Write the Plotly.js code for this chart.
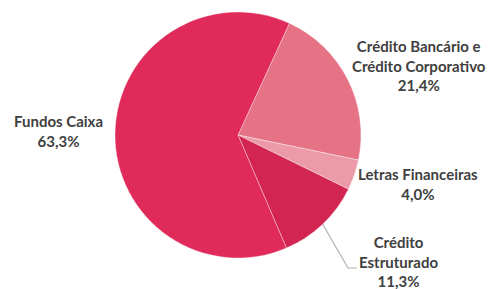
<!DOCTYPE html>
<html><head><meta charset="utf-8">
<script src="https://cdn.plot.ly/plotly-3.0.1.min.js"></script>
<style>html,body{margin:0;padding:0;background:#fff}#chart{width:490px;height:289px}</style>
</head><body><div id="chart"></div>
<script>
// Data
const categories = ["Crédito Bancário e Crédito Corporativo", "Letras Financeiras", "Crédito Estruturado", "Fundos Caixa"];
const labelText = ["Crédito Bancário e<br>Crédito Corporativo", "Letras Financeiras", "Crédito<br>Estruturado", "Fundos Caixa"];
const values = [21.4, 4.0, 11.3, 63.3];
const colors = ["#E57285", "#EC9AA7", "#D22552", "#E02A5A"];

const W = 490, H = 289;
const cx = 238, cy = 135, R = 123;
const rotation = 24.7;

const fmt = v => v.toFixed(1).replace('.', ',') + '%';

// label positions (pixels, centre of text block)
const labelPos = [
  {x: 419, y: 65},
  {x: 418, y: 184},
  {x: 398, y: 261},
  {x: 58, y: 131}
];

const annotations = categories.map((c, i) => ({
  xref: 'paper', yref: 'paper',
  x: labelPos[i].x / W, y: 1 - labelPos[i].y / H,
  xanchor: 'center', yanchor: 'middle',
  text: '<b>' + labelText[i] + '<br>' + fmt(values[i]) + '</b>',
  showarrow: false, align: 'center',
  font: {family: 'Lato, sans-serif', size: 15, color: '#404040'}
}));

// leader line for Crédito Estruturado: from slice edge at mid-angle
const total = values.reduce((a, b) => a + b, 0);
let cum = 0; const mids = [];
values.forEach(v => { mids.push(rotation + (cum + v / 2) / total * 360); cum += v; });
const a = mids[2] * Math.PI / 180;
const sx = cx + R * Math.sin(a), sy = cy - R * Math.cos(a);
const shapes = [{
  type: 'path', xref: 'paper', yref: 'paper',
  path: `M ${sx / W} ${1 - sy / H} L ${348 / W} ${1 - 268 / H} L ${357 / W} ${1 - 268 / H}`,
  line: {color: '#b0b0b0', width: 1.2}
}];

const trace = {
  type: 'pie', labels: categories, values: values, sort: false, direction: 'clockwise',
  rotation: rotation, textinfo: 'none', hoverinfo: 'none',
  marker: {colors: colors, line: {color: 'rgba(255,255,255,0.6)', width: 0.6}},
  domain: {x: [(cx - R) / W, (cx + R) / W], y: [1 - (cy + R) / H, 1 - (cy - R) / H]},
  showlegend: false
};

Plotly.newPlot('chart', [trace], {
  width: W, height: H, margin: {l: 0, r: 0, t: 0, b: 0},
  paper_bgcolor: '#fff', showlegend: false,
  annotations: annotations, shapes: shapes
}, {displayModeBar: false, staticPlot: true});
</script></body></html>
